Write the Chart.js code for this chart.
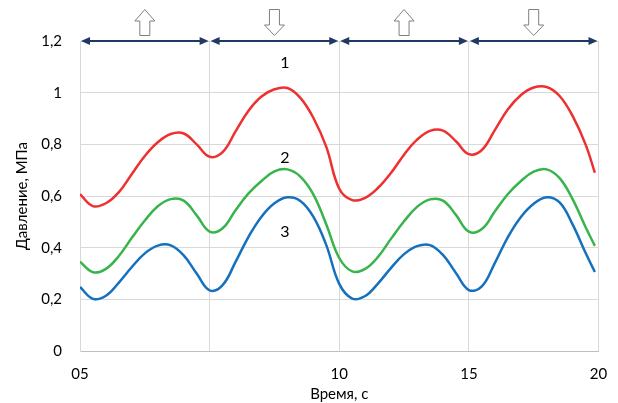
<!DOCTYPE html>
<html>
<head>
<meta charset="utf-8">
<script src="https://cdn.jsdelivr.net/npm/chart.js@4"></script>
<style>
  body { margin: 0; background: #fff; }
</style>
</head>
<body>
<canvas id="pressureChart" width="618" height="403"></canvas>
<script>
// Время, с (шаг 0,5 с)
const timeSteps = [0, 0.5, 1, 1.5, 2, 2.5, 3, 3.5, 4, 4.5, 5, 5.5, 6, 6.5, 7, 7.5, 8, 8.5, 9, 9.5,
    10, 10.5, 11, 11.5, 12, 12.5, 13, 13.5, 14, 14.5, 15, 15.5, 16, 16.5, 17, 17.5, 18, 18.5, 19, 19.5, 19.86];

// Кривая 1 (красная)
const press1 = [0.607, 0.561, 0.572, 0.615, 0.685, 0.755, 0.808, 0.840, 0.842, 0.800, 0.752, 0.770, 0.850, 0.930, 0.985, 1.013, 1.018, 0.980, 0.903, 0.790,
    0.628, 0.584, 0.593, 0.632, 0.690, 0.760, 0.818, 0.852, 0.853, 0.812, 0.762, 0.778, 0.855, 0.935, 0.990, 1.020, 1.022, 0.987, 0.910, 0.800, 0.690];

// Кривая 2 (зелёная)
const press2 = [0.346, 0.305, 0.318, 0.368, 0.438, 0.505, 0.560, 0.588, 0.582, 0.525, 0.462, 0.475, 0.545, 0.610, 0.658, 0.695, 0.703, 0.675, 0.606, 0.490,
    0.360, 0.308, 0.318, 0.365, 0.435, 0.502, 0.558, 0.587, 0.582, 0.527, 0.462, 0.472, 0.540, 0.607, 0.657, 0.694, 0.703, 0.669, 0.588, 0.480, 0.407];

// Кривая 3 (синяя)
const press3 = [0.248, 0.202, 0.214, 0.265, 0.325, 0.378, 0.408, 0.409, 0.370, 0.300, 0.235, 0.255, 0.345, 0.442, 0.520, 0.572, 0.595, 0.581, 0.520, 0.410,
    0.260, 0.203, 0.213, 0.262, 0.322, 0.375, 0.406, 0.410, 0.372, 0.302, 0.236, 0.250, 0.340, 0.440, 0.518, 0.570, 0.595, 0.575, 0.490, 0.380, 0.306];

// Подписи осей
const xTickValues = [0, 5, 10, 15, 20];
const xTickLabels = ['05', '', '10', '15', '20'];
const yTickValues = [0, 0.2, 0.4, 0.6, 0.8, 1, 1.2];
const yTickLabels = ['0', '0,2', '0,4', '0,6', '0,8', '1', '1,2'];

// Фазы (границы интервалов) и направление стрелок
const phaseBounds = [0, 5, 10, 15, 20];
const phaseDirs = ['up', 'down', 'up', 'down'];

// Номера кривых
const curveLabels = ['1', '2', '3'];
const curveLabelTime = [7.9, 7.9, 7.9];
const curveLabelPress = [1.115, 0.747, 0.46];

const FONT = 'Lato, "Noto Sans", sans-serif';

function toPoints(ts, ps) {
    return ts.map((t, i) => ({ x: t, y: ps[i] }));
}

const overlayPlugin = {
    id: 'overlay',
    afterDatasetsDraw(chart) {
        const ctx = chart.ctx;
        const xs = chart.scales.x;
        const ys = chart.scales.y;
        const yTop = ys.getPixelForValue(1.2);
        ctx.save();

        for (let i = 0; i < phaseBounds.length - 1; i++) {
            const x1 = xs.getPixelForValue(phaseBounds[i]);
            const x2 = xs.getPixelForValue(phaseBounds[i + 1]);

            // двойная стрелка
            ctx.strokeStyle = '#203864';
            ctx.fillStyle = '#203864';
            ctx.lineWidth = 2;
            ctx.beginPath();
            ctx.moveTo(x1 + 6, yTop);
            ctx.lineTo(x2 - 6, yTop);
            ctx.stroke();
            ctx.beginPath();
            ctx.moveTo(x1 + 1, yTop);
            ctx.lineTo(x1 + 10, yTop - 4);
            ctx.lineTo(x1 + 10, yTop + 4);
            ctx.closePath();
            ctx.fill();
            ctx.beginPath();
            ctx.moveTo(x2 - 1, yTop);
            ctx.lineTo(x2 - 10, yTop - 4);
            ctx.lineTo(x2 - 10, yTop + 4);
            ctx.closePath();
            ctx.fill();

            // блочная стрелка
            const cx = (x1 + x2) / 2;
            ctx.strokeStyle = '#7f7f7f';
            ctx.fillStyle = '#ffffff';
            ctx.lineWidth = 1;
            ctx.beginPath();
            if (phaseDirs[i] === 'up') {
                ctx.moveTo(cx, 9.5);
                ctx.lineTo(cx + 10, 21);
                ctx.lineTo(cx + 5, 21);
                ctx.lineTo(cx + 5, 35.5);
                ctx.lineTo(cx - 5, 35.5);
                ctx.lineTo(cx - 5, 21);
                ctx.lineTo(cx - 10, 21);
            } else {
                ctx.moveTo(cx - 5, 9.5);
                ctx.lineTo(cx + 5, 9.5);
                ctx.lineTo(cx + 5, 25);
                ctx.lineTo(cx + 10, 25);
                ctx.lineTo(cx, 35.5);
                ctx.lineTo(cx - 10, 25);
                ctx.lineTo(cx - 5, 25);
            }
            ctx.closePath();
            ctx.fill();
            ctx.stroke();
        }

        // номера кривых
        ctx.fillStyle = '#000';
        ctx.font = '16px ' + FONT;
        ctx.textAlign = 'center';
        ctx.textBaseline = 'middle';
        curveLabels.forEach((txt, i) => {
            ctx.fillText(txt, xs.getPixelForValue(curveLabelTime[i]), ys.getPixelForValue(curveLabelPress[i]));
        });
        ctx.restore();
    }
};

const lineStyle = {
    pointRadius: 0,
    borderWidth: 2.5,
    fill: false,
    tension: 0.4
};

const ctx = document.getElementById('pressureChart').getContext('2d');
const pressureChart = new Chart(ctx, {
    type: 'line',
    data: {
        datasets: [
            { ...lineStyle, label: '1', data: toPoints(timeSteps, press1), borderColor: '#ee3030' },
            { ...lineStyle, label: '2', data: toPoints(timeSteps, press2), borderColor: '#38b44c' },
            { ...lineStyle, label: '3', data: toPoints(timeSteps, press3), borderColor: '#1570be' }
        ]
    },
    options: {
        responsive: false,
        animation: false,
        layout: { padding: { left: 0, right: 19.5, top: 41, bottom: 0 } },
        plugins: {
            legend: { display: false },
            tooltip: { enabled: false }
        },
        scales: {
            x: {
                type: 'linear',
                min: 0,
                max: 20,
                afterBuildTicks(scale) {
                    scale.ticks = xTickValues.map(v => ({ value: v }));
                },
                afterFit(scale) {
                    scale.height = 52;
                    scale.paddingLeft = 0;
                    scale.paddingRight = 19.5;
                },
                ticks: {
                    color: '#000',
                    font: { family: FONT, size: 15 },
                    padding: 14,
                    maxRotation: 0,
                    autoSkip: false,
                    callback: (v) => xTickLabels[xTickValues.indexOf(v)] ?? ''
                },
                grid: { color: '#d9d9d9', drawTicks: false },
                border: { color: '#bfbfbf' },
                title: {
                    display: true,
                    text: 'Время, с',
                    color: '#000',
                    font: { family: FONT, size: 15 },
                    padding: { top: 0, bottom: 0 }
                }
            },
            y: {
                min: 0,
                max: 1.2,
                afterBuildTicks(scale) {
                    scale.ticks = yTickValues.map(v => ({ value: v }));
                },
                afterFit(scale) { scale.width = 80; },
                ticks: {
                    color: '#000',
                    font: { family: FONT, size: 15 },
                    padding: 18,
                    callback: (v) => yTickLabels[yTickValues.indexOf(v)] ?? ''
                },
                grid: { color: '#d9d9d9', drawTicks: false },
                border: { color: '#d9d9d9' },
                title: {
                    display: true,
                    text: 'Давление, МПа',
                    color: '#000',
                    font: { family: FONT, size: 15 },
                    padding: { top: 13, bottom: 0 }
                }
            }
        }
    },
    plugins: [overlayPlugin]
});
</script>
</body>
</html>
